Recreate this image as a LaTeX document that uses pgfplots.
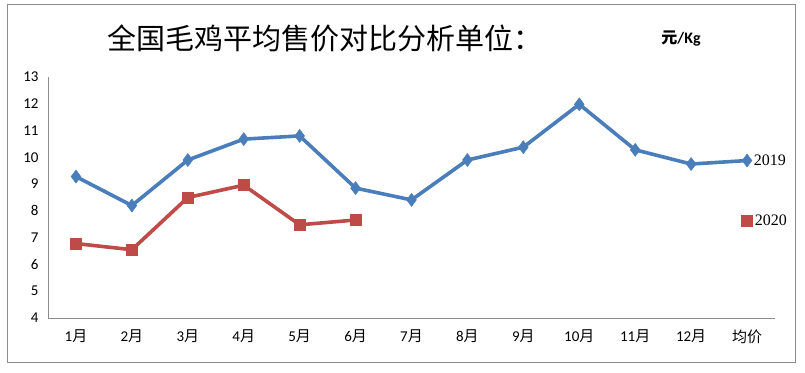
\documentclass[border=0pt]{standalone}
\usepackage{pgfplots}
\pgfplotsset{compat=1.18}
\usepackage{fontspec}
\setmainfont{Liberation Serif}
\newfontfamily\cjk{Noto Sans CJK SC}
\newfontfamily\calib{Carlito}
\definecolor{sblue}{HTML}{4A7EBB}
\definecolor{sred}{HTML}{BE4B48}
\definecolor{frame}{HTML}{8C8C8C}
\begin{document}
\begin{tikzpicture}[x=1pt,y=1pt]
\path (0,0) rectangle (805,372);
\draw[frame, line width=1pt] (7,10) rectangle (795,367);
\node[font=\cjk\fontsize{29}{30}\selectfont, anchor=center] at (325,334) {全国毛鸡平均售价对比分析单位：};
\node[font=\bfseries\fontsize{16}{17}\selectfont, anchor=center] at (681,333) {{\cjk 元}{\calib /Kg}};
\begin{axis}[
  at={(48pt,54pt)}, anchor=south west,
  scale only axis, width=727pt, height=241pt,
  xmin=-0.5, xmax=12.5, ymin=4, ymax=13,
  axis x line*=bottom, axis y line*=left,
  axis line style={frame, line width=0.8pt, -},
  xtick={0,...,12},
  xticklabels={{\calib 1}{\cjk 月},{\calib 2}{\cjk 月},{\calib 3}{\cjk 月},{\calib 4}{\cjk 月},{\calib 5}{\cjk 月},{\calib 6}{\cjk 月},{\calib 7}{\cjk 月},{\calib 8}{\cjk 月},{\calib 9}{\cjk 月},{\calib 10}{\cjk 月},{\calib 11}{\cjk 月},{\calib 12}{\cjk 月},{\cjk 均价}},
  ytick={4,...,13},
  major tick length=0pt,
  tick label style={font=\calib\fontsize{15}{16}\selectfont},
  xticklabel style={yshift=-8pt},
  yticklabel style={xshift=-6pt},
  /pgf/number format/assume math mode=true,
  unbounded coords=jump,
  clip=false,
]
\addplot[sblue, line width=3.6pt, mark=diamond*, mark size=6.5pt, mark options={solid, line width=0.5pt}] coordinates {
  (0,9.28) (1,8.2) (2,9.9) (3,10.68) (4,10.8) (5,8.85) (6,8.41) (7,9.9) (8,10.38) (9,11.98) (10,10.28) (11,9.75) (12,9.88)
};
\addplot[sred, line width=3.6pt, mark=square*, mark size=5.5pt, mark options={solid, line width=0.5pt}] coordinates {
  (0,6.78) (1,6.55) (2,8.5) (3,8.96) (4,7.48) (5,7.66) (6,nan) (12,7.64)
};
\node[anchor=west, font=\fontsize{16}{17}\selectfont, inner sep=1pt] at (axis cs:12.1,9.9) {2019};
\node[anchor=west, font=\fontsize{16}{17}\selectfont, inner sep=1pt] at (axis cs:12.12,7.66) {2020};
\end{axis}
\end{tikzpicture}
\end{document}
